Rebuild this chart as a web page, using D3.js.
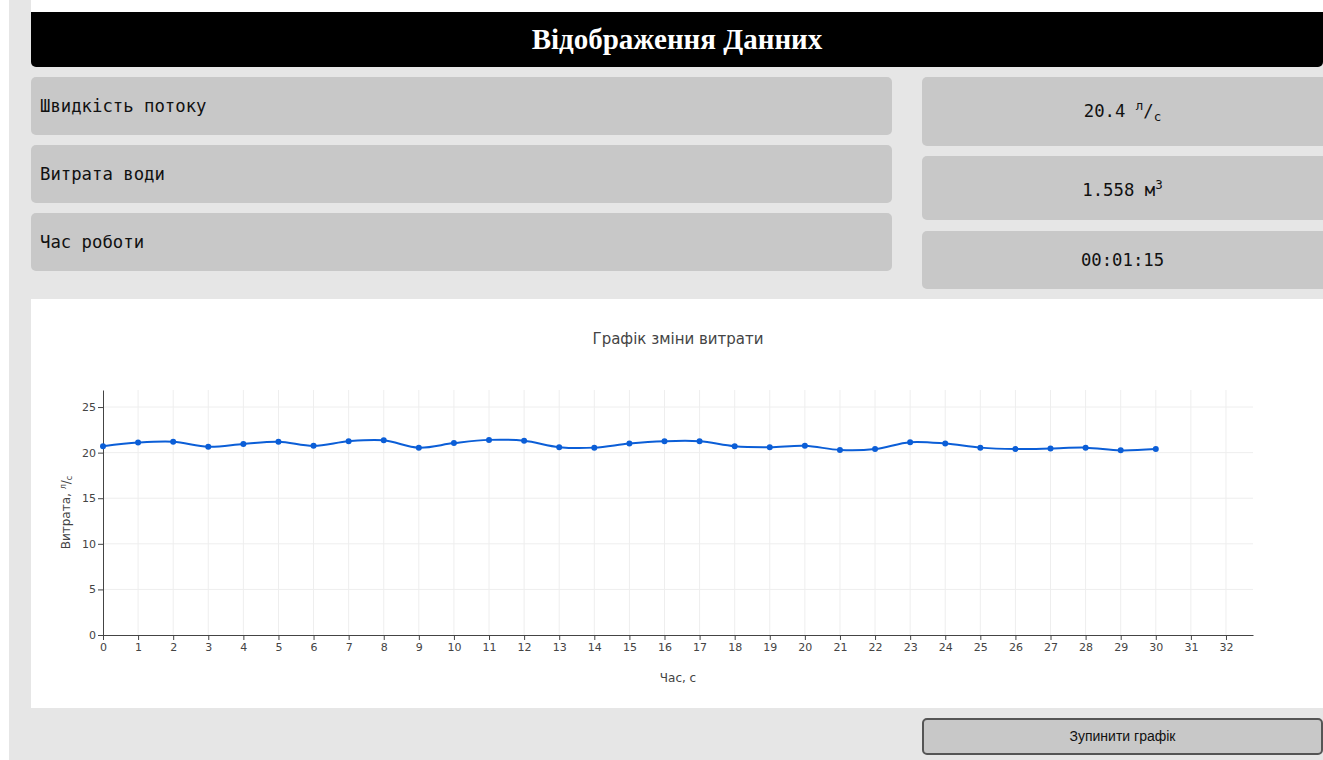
<!DOCTYPE html>
<html>
<head>
<meta charset="utf-8">
<script src="https://cdn.jsdelivr.net/npm/d3@7"></script>
<style>
    body { margin: 0; background: #fff; width: 1323px; height: 760px; overflow: hidden; position: relative; }
    .fon { position: absolute; left: 9px; top: 0; width: 1314px; height: 760px; background: #e6e6e6; }
    .shapka { position: absolute; left: 31px; top: 0; width: 1292px; height: 12px; background: #fff; }
    .zagolovok { position: absolute; left: 31px; top: 12px; width: 1292px; height: 55px; background: #000;
        border-radius: 0 0 5px 5px; color: #fff; font-family: "Liberation Serif", serif; font-weight: bold;
        font-size: 29px; text-align: center; line-height: 54px; }
    .panel { position: absolute; background: #c8c8c8; border-radius: 5px; font-family: "DejaVu Sans Mono", monospace;
        font-size: 17.3px; color: #111; display: flex; align-items: center; }
    .nazva { left: 31px; width: 861px; height: 58px; padding-left: 9px; box-sizing: border-box; }
    .znach { left: 922px; width: 401px; justify-content: center; border-radius: 5px 0 0 5px; }
    .znach sup, .znach sub { font-size: 12.5px; }
    .grafik { position: absolute; left: 31px; top: 299px; width: 1292px; height: 409px; background: #fff; }
    .knopka { position: absolute; left: 922px; top: 718px; width: 401px; height: 37px; box-sizing: border-box;
        border: 2px solid #555; border-radius: 5px; background: #c8c8c8; font-family: "Liberation Sans", Arial, sans-serif;
        font-size: 14px; color: #111; text-align: center; line-height: 33px; }
</style>
</head>
<body>
<div class="fon"></div>
<div class="shapka"></div>
<div class="zagolovok">Відображення Данних</div>
<div class="panel nazva" style="top:77px">Швидкість потоку</div>
<div class="panel nazva" style="top:145px">Витрата води</div>
<div class="panel nazva" style="top:213px">Час роботи</div>
<div class="panel znach" style="top:77px;height:69px"><span>20.4 <sup>л</sup>/<sub>с</sub></span></div>
<div class="panel znach" style="top:156px;height:64px"><span>1.558 м<sup>3</sup></span></div>
<div class="panel znach" style="top:231px;height:58px"><span>00:01:15</span></div>
<div class="grafik"></div>
<div class="knopka">Зупинити графік</div>
<script>
// час, с
const chas = [0, 1, 2, 3, 4, 5, 6, 7, 8, 9, 10, 11, 12, 13, 14, 15,
    16, 17, 18, 19, 20, 21, 22, 23, 24, 25, 26, 27, 28, 29, 30];
// витрата, л/с
const vytrata = [20.7, 21.1, 21.2, 20.65, 20.95, 21.2, 20.75, 21.25, 21.35, 20.55, 21.05, 21.4,
    21.3, 20.6, 20.55, 21.0, 21.25, 21.25, 20.7, 20.6, 20.75, 20.3, 20.4, 21.15,
    21.0, 20.55, 20.4, 20.45, 20.55, 20.25, 20.4];
const yTicks = [0, 5, 10, 15, 20, 25];
const xTicks = d3.range(0, 33);

function drawGrafik() {
    const width = 1292;
    const height = 409;
    const margin = { top: 91, right: 70, bottom: 73, left: 72 };
    const w = width - margin.left - margin.right;
    const h = height - margin.top - margin.bottom;

    const svg = d3.select(".grafik")
        .append("svg")
        .attr("width", width)
        .attr("height", height)
        .style("font-family", "'DejaVu Sans', Verdana, sans-serif");

    const g = svg.append("g")
        .attr("transform", `translate(${margin.left},${margin.top})`);

    const x = d3.scaleLinear().domain([0, 32.77]).range([0, w]);
    const y = d3.scaleLinear().domain([0, 26.87]).range([h, 0]);

    // сітка
    g.append("g")
        .selectAll("line")
        .data(xTicks.slice(1))
        .join("line")
        .attr("x1", d => x(d)).attr("x2", d => x(d))
        .attr("y1", 0).attr("y2", h)
        .attr("stroke", "#eee");

    g.append("g")
        .selectAll("line")
        .data(yTicks.slice(1))
        .join("line")
        .attr("x1", 0).attr("x2", w)
        .attr("y1", d => y(d)).attr("y2", d => y(d))
        .attr("stroke", "#eee");

    const xAxis = g.append("g")
        .attr("transform", `translate(0,${h})`)
        .call(d3.axisBottom(x).tickValues(xTicks).tickSize(5).tickPadding(3).tickSizeOuter(0));

    const yAxis = g.append("g")
        .call(d3.axisLeft(y).tickValues(yTicks).tickSize(5).tickPadding(2).tickSizeOuter(0));

    [xAxis, yAxis].forEach(a => {
        a.select(".domain").attr("stroke", "#444").attr("stroke-width", 1);
        a.selectAll(".tick line").attr("stroke", "#444");
        a.selectAll(".tick text").attr("fill", "#444").style("font-size", "11px")
            .style("font-family", "'DejaVu Sans', Verdana, sans-serif");
    });

    const dani = chas.map((c, i) => ({ t: c, v: vytrata[i] }));

    const line = d3.line()
        .x(d => x(d.t))
        .y(d => y(d.v))
        .curve(d3.curveCatmullRom);

    g.append("path")
        .datum(dani)
        .attr("fill", "none")
        .attr("stroke", "#0b5ed7")
        .attr("stroke-width", 2)
        .attr("d", line);

    g.selectAll("circle")
        .data(dani)
        .join("circle")
        .attr("cx", d => x(d.t))
        .attr("cy", d => y(d.v))
        .attr("r", 3)
        .attr("fill", "#0b5ed7");

    svg.append("text")
        .attr("x", margin.left + w / 2)
        .attr("y", 45)
        .attr("text-anchor", "middle")
        .attr("fill", "#444")
        .style("font-size", "15px")
        .text("Графік зміни витрати");

    svg.append("text")
        .attr("x", margin.left + w / 2)
        .attr("y", 383)
        .attr("text-anchor", "middle")
        .attr("fill", "#444")
        .style("font-size", "12px")
        .text("Час, с");

    const yTitle = svg.append("text")
        .attr("transform", `translate(39,${margin.top + h / 2}) rotate(-90)`)
        .attr("text-anchor", "middle")
        .attr("fill", "#444")
        .style("font-size", "12px");
    yTitle.append("tspan").text("Витрата, ");
    yTitle.append("tspan").attr("dy", -4).style("font-size", "8px").text("л");
    yTitle.append("tspan").attr("dy", 4).text("/");
    yTitle.append("tspan").attr("dy", 2).style("font-size", "8px").text("с");
}

drawGrafik();
</script>
</body>
</html>
